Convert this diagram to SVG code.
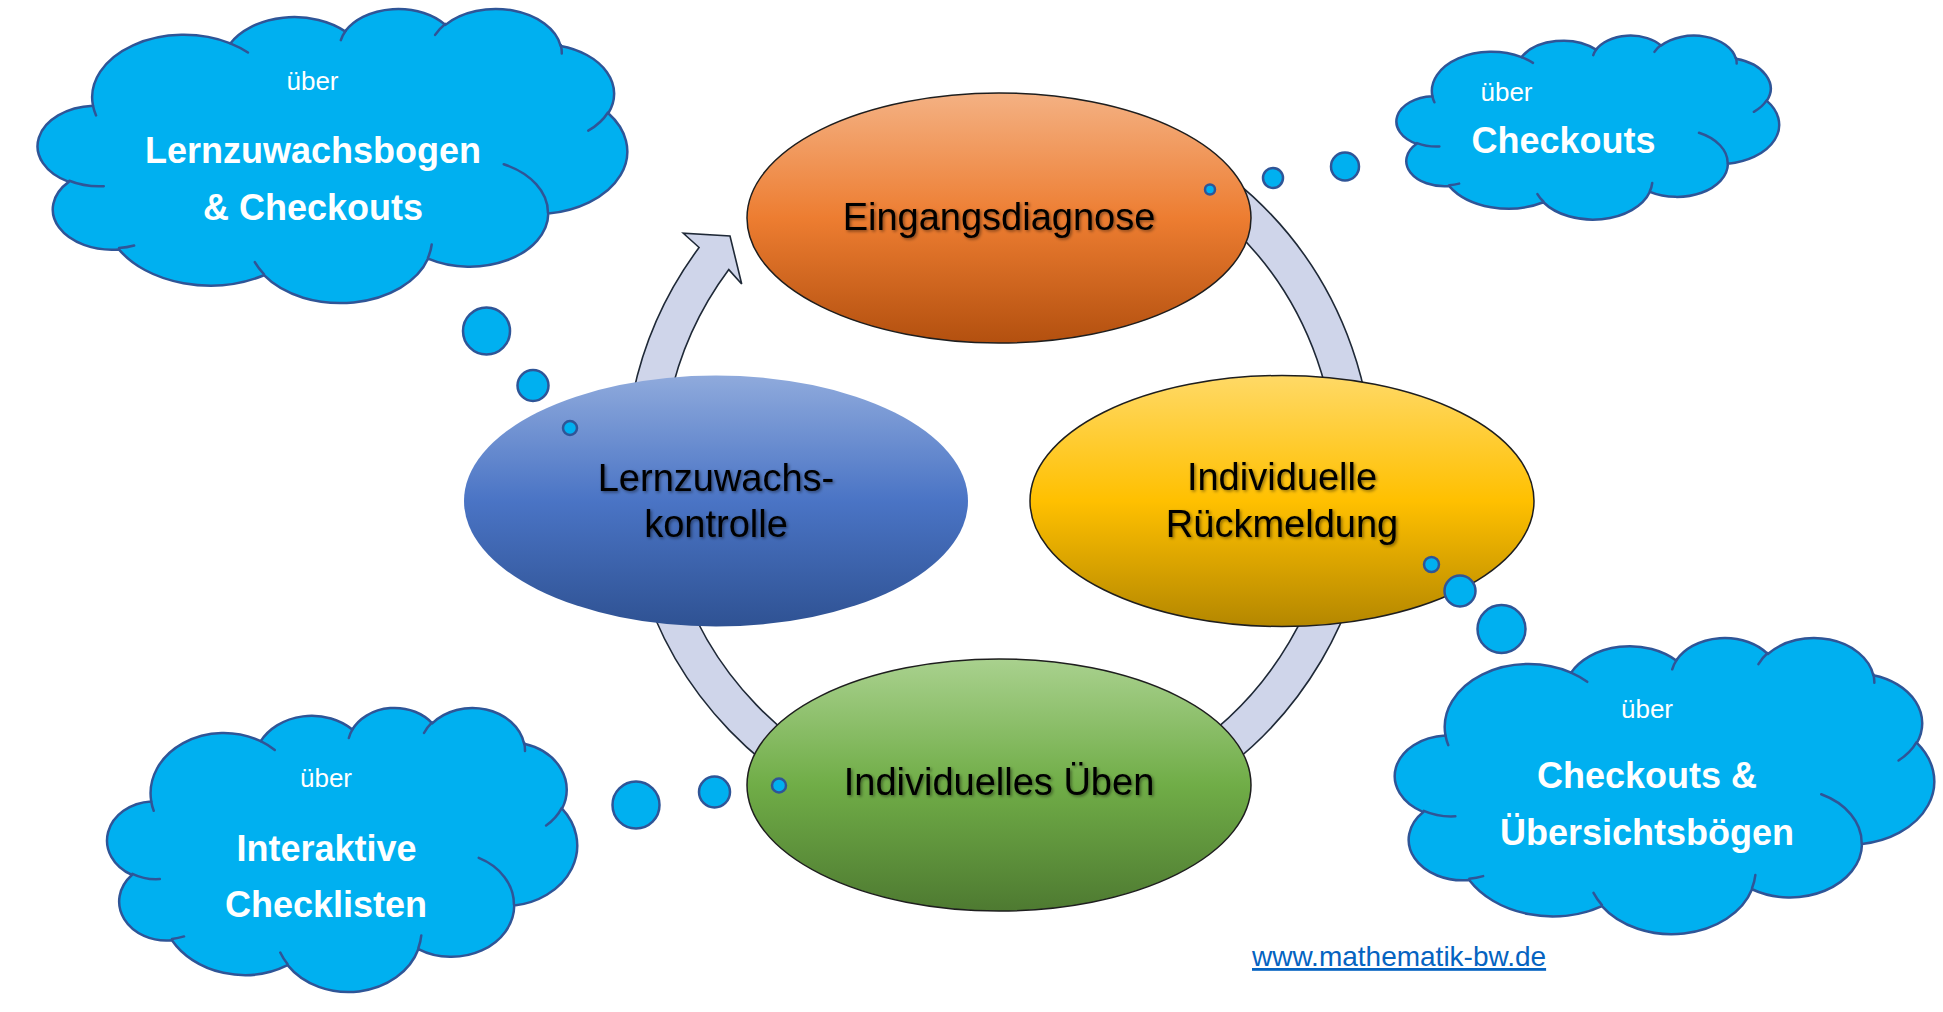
<svg xmlns="http://www.w3.org/2000/svg" xmlns:xlink="http://www.w3.org/1999/xlink" width="1943" height="1012" viewBox="0 0 1943 1012">
<style>
.lbl{font-family:"Liberation Sans",Arial,sans-serif;font-size:38px;fill:#000;text-anchor:middle;filter:url(#ts)}
.ct{font-family:"Liberation Sans",Arial,sans-serif;fill:#fff;text-anchor:middle}
.cb{font-size:36px;font-weight:bold}
.cs{font-size:26px}
.cloud{fill:#00B0F0;stroke:#2F5597;stroke-width:2.5;stroke-linejoin:round}
.cin{fill:none;stroke:#2F5597;stroke-width:2.5;stroke-linecap:round}
.bub{fill:#00B0F0;stroke:#2F5597;stroke-width:2.5}
.ell{stroke:#1E1E1E;stroke-width:1.5}
.band{fill:#CFD5EA;stroke:#1F2937;stroke-width:1.6;stroke-linejoin:miter}
.link{font-family:"Liberation Sans",Arial,sans-serif;font-size:28px;fill:#0563C1;text-decoration:underline}
</style>
<defs>
<filter id="ts" x="-10%" y="-30%" width="120%" height="160%">
<feDropShadow dx="1.5" dy="1.5" stdDeviation="1.4" flood-color="#000" flood-opacity="0.45"/>
</filter>
<linearGradient id="gOrange" x1="0" y1="0" x2="0" y2="1">
<stop offset="0" stop-color="#F4B183"/><stop offset="0.5" stop-color="#ED7D31"/><stop offset="1" stop-color="#B3500F"/>
</linearGradient>
<linearGradient id="gBlue" x1="0" y1="0" x2="0" y2="1">
<stop offset="0" stop-color="#8FAADC"/><stop offset="0.5" stop-color="#4A74C5"/><stop offset="1" stop-color="#2F5293"/>
</linearGradient>
<linearGradient id="gYellow" x1="0" y1="0" x2="0" y2="1">
<stop offset="0" stop-color="#FFD966"/><stop offset="0.5" stop-color="#FFC000"/><stop offset="1" stop-color="#B48700"/>
</linearGradient>
<linearGradient id="gGreen" x1="0" y1="0" x2="0" y2="1">
<stop offset="0" stop-color="#A9D18E"/><stop offset="0.5" stop-color="#70AD47"/><stop offset="1" stop-color="#4E7A31"/>
</linearGradient>
</defs>
<rect x="0" y="0" width="1943" height="1012" fill="#fff"/>

<g id="connectors">
<path class="band" d="M 934.05 102.7 A 374 374 0 1 1 699.1 247.5 L 683.3 233.3 L 730 236 L 741.7 284 L 728.8 269.6 A 337 337 0 1 0 940.48 139.12 Z"/>
</g>

<g id="node-eingangsdiagnose">
<ellipse class="ell" cx="999" cy="218" rx="252" ry="125" fill="url(#gOrange)"/>
<text class="lbl" x="999" y="229.5">Eingangsdiagnose</text>
</g>
<g id="node-lernzuwachskontrolle">
<ellipse cx="716" cy="501" rx="252" ry="125.5" fill="url(#gBlue)"/>
<text class="lbl" x="716" y="490.5">Lernzuwachs-</text>
<text class="lbl" x="716" y="536.5">kontrolle</text>
</g>
<g id="node-rueckmeldung">
<ellipse class="ell" cx="1282" cy="501" rx="252" ry="125.5" fill="url(#gYellow)"/>
<text class="lbl" x="1282" y="490">Individuelle</text>
<text class="lbl" x="1282" y="536.5">Rückmeldung</text>
</g>
<g id="node-ueben">
<ellipse class="ell" cx="999" cy="785" rx="252" ry="126" fill="url(#gGreen)"/>
<text class="lbl" x="999" y="795">Individuelles Üben</text>
</g>

<g id="cloud-lernzuwachsbogen">
<g transform="translate(40 8) scale(0.013588 0.0068056)">
<path class="cloud" vector-effect="non-scaling-stroke" d="M3900 14370 A6753 9190 0 0 1 14005 5202 A5333 7267 0 0 1 22458 3432 A4365 5945 0 0 1 29836 2482 A4857 6595 0 0 1 38321 5577 A5333 7273 0 0 1 41822 15461 A6775 9220 0 0 1 37407 30203 A5785 7867 0 0 1 28560 36814 A6752 9215 0 0 1 16484 39266 A7720 10543 0 0 1 5807 35470 A4360 5918 0 0 1 2116 25548 A4345 5945 0 0 1 3900 14370 Z"/>
<path class="cin" vector-effect="non-scaling-stroke" d="M4693 26177 A4345 5945 0 0 1 2159 25380 M6928 34899 A4360 5918 0 0 1 5819 35281 M16478 39090 A6752 9215 0 0 1 15809 37348 M28827 34751 A6752 9215 0 0 1 28560 36660 M34129 22954 A5785 7867 0 0 1 37380 30090 M41798 15354 A5333 7273 0 0 1 40350 18030 M38324 5426 A4857 6595 0 0 1 38400 6690 M29078 3952 A4857 6595 0 0 1 29820 2340 M22141 4720 A4365 5945 0 0 1 22500 3331 M14000 5192 A6753 9190 0 0 1 15302 6543 M4127 15789 A6753 9190 0 0 1 3900 14370"/>
</g>
<text class="ct cs" x="312.5" y="90">über</text>
<text class="ct cb" x="313" y="163">Lernzuwachsbogen</text>
<text class="ct cb" x="313" y="220">&amp; Checkouts</text>
<circle class="bub" cx="486.5" cy="331" r="23.5"/>
<circle class="bub" cx="533" cy="385.5" r="15.5"/>
<circle class="bub" cx="570" cy="428" r="7"/>
</g>

<g id="cloud-checkouts">
<g transform="translate(1398 35) scale(0.0088194 0.0042593)">
<path class="cloud" vector-effect="non-scaling-stroke" d="M3900 14370 A6753 9190 0 0 1 14005 5202 A5333 7267 0 0 1 22458 3432 A4365 5945 0 0 1 29836 2482 A4857 6595 0 0 1 38321 5577 A5333 7273 0 0 1 41822 15461 A6775 9220 0 0 1 37407 30203 A5785 7867 0 0 1 28560 36814 A6752 9215 0 0 1 16484 39266 A7720 10543 0 0 1 5807 35470 A4360 5918 0 0 1 2116 25548 A4345 5945 0 0 1 3900 14370 Z"/>
<path class="cin" vector-effect="non-scaling-stroke" d="M4693 26177 A4345 5945 0 0 1 2159 25380 M6928 34899 A4360 5918 0 0 1 5819 35281 M16478 39090 A6752 9215 0 0 1 15809 37348 M28827 34751 A6752 9215 0 0 1 28560 36660 M34129 22954 A5785 7867 0 0 1 37380 30090 M41798 15354 A5333 7273 0 0 1 40350 18030 M38324 5426 A4857 6595 0 0 1 38400 6690 M29078 3952 A4857 6595 0 0 1 29820 2340 M22141 4720 A4365 5945 0 0 1 22500 3331 M14000 5192 A6753 9190 0 0 1 15302 6543 M4127 15789 A6753 9190 0 0 1 3900 14370"/>
</g>
<text class="ct cs" x="1506.5" y="101">über</text>
<text class="ct cb" x="1563.5" y="152.5">Checkouts</text>
<circle class="bub" cx="1210" cy="189.5" r="5"/>
<circle class="bub" cx="1273" cy="178" r="10"/>
<circle class="bub" cx="1345" cy="166.5" r="14"/>
</g>

<g id="cloud-uebersichtsboegen">
<g transform="translate(1397 637) scale(0.0124306 0.0068519)">
<path class="cloud" vector-effect="non-scaling-stroke" d="M3900 14370 A6753 9190 0 0 1 14005 5202 A5333 7267 0 0 1 22458 3432 A4365 5945 0 0 1 29836 2482 A4857 6595 0 0 1 38321 5577 A5333 7273 0 0 1 41822 15461 A6775 9220 0 0 1 37407 30203 A5785 7867 0 0 1 28560 36814 A6752 9215 0 0 1 16484 39266 A7720 10543 0 0 1 5807 35470 A4360 5918 0 0 1 2116 25548 A4345 5945 0 0 1 3900 14370 Z"/>
<path class="cin" vector-effect="non-scaling-stroke" d="M4693 26177 A4345 5945 0 0 1 2159 25380 M6928 34899 A4360 5918 0 0 1 5819 35281 M16478 39090 A6752 9215 0 0 1 15809 37348 M28827 34751 A6752 9215 0 0 1 28560 36660 M34129 22954 A5785 7867 0 0 1 37380 30090 M41798 15354 A5333 7273 0 0 1 40350 18030 M38324 5426 A4857 6595 0 0 1 38400 6690 M29078 3952 A4857 6595 0 0 1 29820 2340 M22141 4720 A4365 5945 0 0 1 22500 3331 M14000 5192 A6753 9190 0 0 1 15302 6543 M4127 15789 A6753 9190 0 0 1 3900 14370"/>
</g>
<text class="ct cs" x="1647" y="718">über</text>
<text class="ct cb" x="1647" y="788">Checkouts &amp;</text>
<text class="ct cb" x="1647" y="845">Übersichtsbögen</text>
<circle class="bub" cx="1431.5" cy="564.5" r="7.5"/>
<circle class="bub" cx="1460" cy="591" r="15.5"/>
<circle class="bub" cx="1501.5" cy="629" r="24"/>
</g>

<g id="cloud-checklisten">
<g transform="translate(109 707) scale(0.0108333 0.0065741)">
<path class="cloud" vector-effect="non-scaling-stroke" d="M3900 14370 A6753 9190 0 0 1 14005 5202 A5333 7267 0 0 1 22458 3432 A4365 5945 0 0 1 29836 2482 A4857 6595 0 0 1 38321 5577 A5333 7273 0 0 1 41822 15461 A6775 9220 0 0 1 37407 30203 A5785 7867 0 0 1 28560 36814 A6752 9215 0 0 1 16484 39266 A7720 10543 0 0 1 5807 35470 A4360 5918 0 0 1 2116 25548 A4345 5945 0 0 1 3900 14370 Z"/>
<path class="cin" vector-effect="non-scaling-stroke" d="M4693 26177 A4345 5945 0 0 1 2159 25380 M6928 34899 A4360 5918 0 0 1 5819 35281 M16478 39090 A6752 9215 0 0 1 15809 37348 M28827 34751 A6752 9215 0 0 1 28560 36660 M34129 22954 A5785 7867 0 0 1 37380 30090 M41798 15354 A5333 7273 0 0 1 40350 18030 M38324 5426 A4857 6595 0 0 1 38400 6690 M29078 3952 A4857 6595 0 0 1 29820 2340 M22141 4720 A4365 5945 0 0 1 22500 3331 M14000 5192 A6753 9190 0 0 1 15302 6543 M4127 15789 A6753 9190 0 0 1 3900 14370"/>
</g>
<text class="ct cs" x="326" y="787">über</text>
<text class="ct cb" x="326.5" y="861">Interaktive</text>
<text class="ct cb" x="326" y="917">Checklisten</text>
<circle class="bub" cx="779" cy="785.5" r="7"/>
<circle class="bub" cx="714.5" cy="792" r="15.5"/>
<circle class="bub" cx="636" cy="805" r="23.5"/>
</g>

<g id="link">
<text class="link" x="1252" y="966">www.mathematik-bw.de</text>
</g>
</svg>
